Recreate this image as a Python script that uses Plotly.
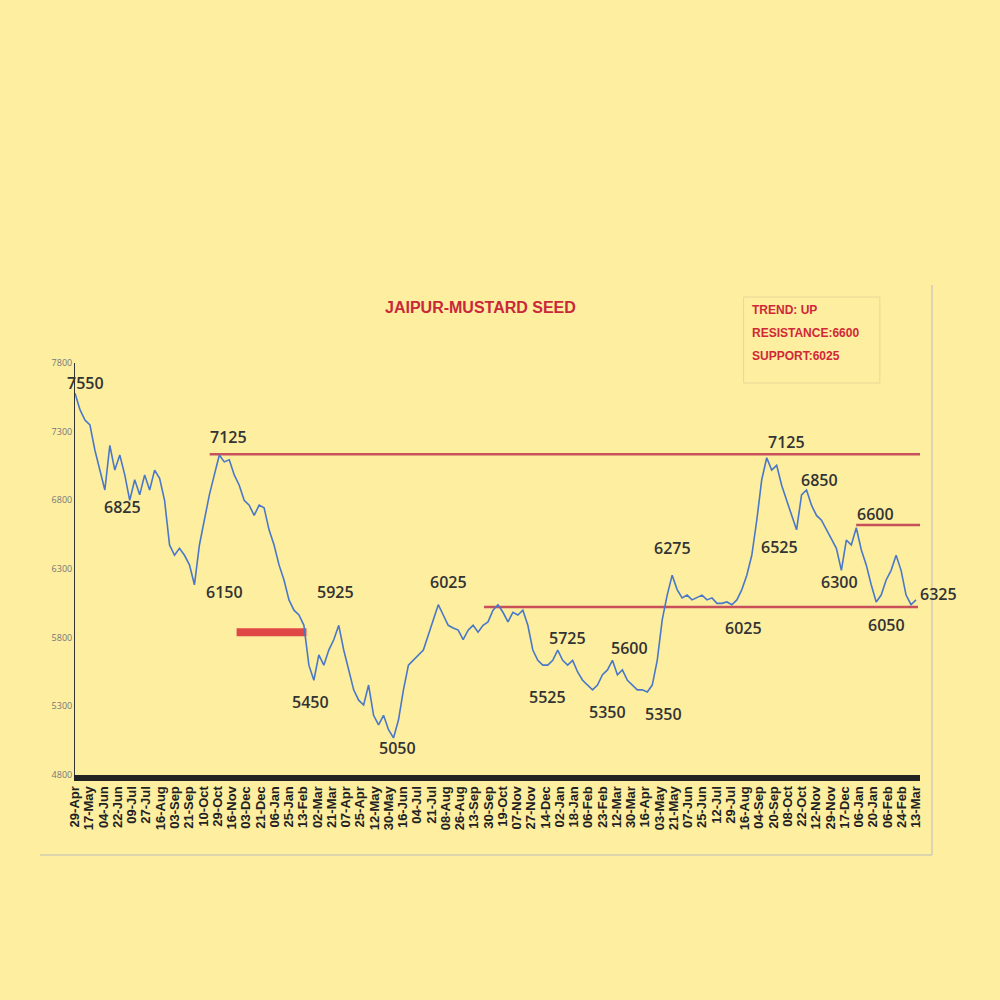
import numpy as np
import plotly.graph_objects as go

prices = [7580,7460,7385,7350,7165,7020,6875,7200,7020,7130,6985,6800,6950,6840,6985,6875,7020,6960,6800,6475,
          6400,6450,6400,6330,6185,6475,6655,6840,6985,7130,7080,7095,6985,6910,6800,6765,6690,6765,6745,6585,
          6475,6330,6220,6075,6000,5965,5890,5600,5490,5675,5600,5710,5785,5890,5710,5565,5420,5345,5310,5455,
          5235,5165,5235,5130,5070,5200,5420,5600,5635,5675,5710,5820,5930,6040,5965,5890,5870,5855,5785,5855,
          5890,5840,5890,5915,6000,6040,5985,5915,5985,5965,6000,5890,5710,5635,5600,5600,5635,5710,5635,5600,
          5635,5550,5490,5455,5420,5455,5530,5565,5635,5530,5565,5490,5455,5420,5420,5405,5455,5635,5930,6110,
          6255,6150,6090,6110,6075,6090,6110,6075,6090,6050,6050,6060,6040,6075,6150,6255,6400,6655,6950,7110,
          7020,7055,6910,6800,6690,6585,6840,6875,6765,6690,6655,6585,6510,6450,6290,6510,6475,6600,6440,6330,
          6185,6060,6110,6220,6290,6400,6290,6110,6040,6075]

dates = ["29-Apr","17-May","04-Jun","22-Jun","09-Jul","27-Jul","16-Aug","03-Sep","21-Sep","10-Oct",
         "29-Oct","16-Nov","03-Dec","21-Dec","06-Jan","25-Jan","13-Feb","02-Mar","21-Mar","07-Apr",
         "25-Apr","12-May","30-May","16-Jun","04-Jul","21-Jul","08-Aug","26-Aug","13-Sep","30-Sep",
         "19-Oct","07-Nov","27-Nov","14-Dec","02-Jan","18-Jan","06-Feb","23-Feb","12-Mar","30-Mar",
         "16-Apr","03-May","21-May","07-Jun","25-Jun","12-Jul","29-Jul","16-Aug","04-Sep","20-Sep",
         "08-Oct","22-Oct","12-Nov","29-Nov","17-Dec","06-Jan","20-Jan","06-Feb","24-Feb","13-Mar"]

levels = [7135, 6023, 6620, 5840]
level_labels = ["7550","6825","7125","6150","5925","5450","6025","5050","5725","5600","5525",
                "5350","5350","6275","6025","7125","6850","6525","6600","6300","6050","6325"]
label_px = [(85,383),(122,507),(228,437),(224,592),(335,592),(310,702),(448,582),(397,748),
            (566,638),(628,648),(546,697),(606,712),(662,714),(671,548),(742,628),(785,442),
            (818,480),(778,547),(874,514),(838,582),(885,625),(936,594)]
box_lines = ["TREND: UP", "RESISTANCE:6600", "SUPPORT:6025"]

BG = "#FDEEA0"
n = len(prices)
x = np.arange(n)
def xi(px):
    return (px - 75) / 843 * (n - 1)
def pxp(px):
    return (px - 75) / 843
def pyp(py):
    return (775 - py) / 412

fig = go.Figure()
for y0, p0, p1, w, c in [(levels[0], 210, 922, 2.5, "#C8505A"), (levels[1], 485, 920, 2.5, "#C8505A"),
                         (levels[2], 858, 922, 2.5, "#C8505A"), (levels[3], 237, 307, 8, "#E04848")]:
    fig.add_trace(go.Scatter(x=[xi(p0), xi(p1)], y=[y0, y0], mode="lines",
                             line=dict(color=c, width=w), hoverinfo="skip", showlegend=False))
fig.add_trace(go.Scatter(x=x, y=prices, mode="lines", line=dict(color="#4A78C8", width=1.6),
                         showlegend=False))

for t, (px, py) in zip(level_labels, label_px):
    fig.add_annotation(x=pxp(px), y=pyp(py), xref="paper", yref="paper", xanchor="center", yanchor="middle",
                       text=t, showarrow=False,
                       font=dict(size=16, color="#333333", family="Open Sans", weight=600))

fig.add_annotation(x=pxp(480), y=pyp(307), xref="paper", yref="paper", xanchor="center", yanchor="middle",
                   text="<b>JAIPUR-MUSTARD SEED</b>", showarrow=False,
                   font=dict(size=16, color="#C8283A", family="Liberation Sans Narrow, Arial"))
for i, t in enumerate(box_lines):
    fig.add_annotation(x=pxp(748), y=pyp(310 + 23 * i), xref="paper", yref="paper",
                       xanchor="left", yanchor="middle", text=f"<b>{t}</b>", showarrow=False,
                       font=dict(size=12, color="#D02838", family="Liberation Sans Narrow, Arial"))

fig.update_layout(
    width=1000, height=1000, paper_bgcolor=BG, plot_bgcolor=BG,
    margin=dict(l=75, r=80, t=363, b=225),
    shapes=[
        dict(type="rect", xref="paper", yref="paper", x0=pxp(742), x1=pxp(878),
             y0=pyp(383), y1=pyp(297), line=dict(color="#E8D898", width=1)),
        dict(type="line", xref="paper", yref="paper", x0=pxp(930), x1=pxp(930),
             y0=pyp(855), y1=pyp(285), line=dict(color="#BBBBBB", width=1)),
        dict(type="line", xref="paper", yref="paper", x0=pxp(40), x1=pxp(930),
             y0=pyp(855), y1=pyp(855), line=dict(color="#BBBBBB", width=1)),
    ],
    xaxis=dict(range=[0, xi(922)], tickvals=np.linspace(0, n - 1, len(dates)), ticktext=[f"<b>{d}</b>" for d in dates],
               tickangle=-90, tickfont=dict(size=13, color="#222", family="Liberation Sans"),
               showgrid=False, zeroline=False, showline=True, linecolor="#222", linewidth=6,
               ticks="", ticklen=0),
    yaxis=dict(range=[4800, 7800], tickvals=[4800,5300,5800,6300,6800,7300,7800],
               tickfont=dict(size=9, color="#777"), showgrid=False, zeroline=False,
               showline=True, linecolor="#333", linewidth=1),
)
fig.write_html("out.html", config={"displayModeBar": False},
               post_script="document.body.style.margin='0';")
